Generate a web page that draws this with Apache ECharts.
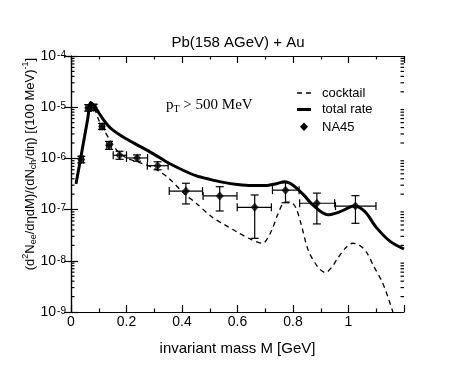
<!DOCTYPE html>
<html><head><meta charset="utf-8">
<script src="https://cdn.jsdelivr.net/npm/echarts@6/dist/echarts.min.js"></script>
<style>html,body{margin:0;padding:0;background:#fff}#c{width:476px;height:368px}</style>
</head><body><div id="c"></div>
<script>
// ---- data ----
const totalMass = [0.018,0.03,0.04,0.05,0.06,0.071,0.08,0.09,0.10,0.116,0.135,0.15,0.175,0.2,0.25,0.3,0.35,0.4,0.45,0.5,0.55,0.6,0.65,0.7,0.74,0.77,0.8,0.84,0.87,0.925,0.97,1.02,1.06,1.1,1.15,1.2];
const totalRate = [3.2e-7,7.2e-7,1.45e-6,2.9e-6,5.8e-6,1.24e-5,1.12e-5,9.5e-6,7.8e-6,5.8e-6,4.3e-6,3.6e-6,2.9e-6,2.4e-6,1.7e-6,1.2e-6,8.2e-7,6.0e-7,4.6e-7,3.9e-7,3.4e-7,3.1e-7,2.95e-7,2.95e-7,3.2e-7,3.5e-7,3.0e-7,1.9e-7,1.25e-7,7.9e-8,9.1e-8,1.17e-7,9.0e-8,4.5e-8,2.4e-8,1.7e-8];
const cocktailMass = [0.018,0.03,0.04,0.05,0.06,0.071,0.08,0.09,0.10,0.12,0.14,0.17,0.2,0.25,0.3,0.35,0.41,0.45,0.51,0.55,0.6,0.65,0.69,0.72,0.745,0.77,0.79,0.81,0.83,0.855,0.89,0.917,0.94,0.96,0.99,1.015,1.04,1.064,1.09,1.124,1.16];
const cocktailRate = [3.2e-7,7.2e-7,1.45e-6,2.9e-6,5.8e-6,1.24e-5,1.08e-5,8.0e-6,5.6e-6,3.5e-6,2.3e-6,1.35e-6,1.02e-6,8.2e-7,6.4e-7,4.2e-7,2.0e-7,1.35e-7,7.0e-8,5.2e-8,3.6e-8,2.6e-8,2.2e-8,3.6e-8,8.0e-8,1.4e-7,1.4e-7,1.1e-7,5.0e-8,1.6e-8,7.5e-9,5.9e-9,7.5e-9,1.1e-8,1.8e-8,2.2e-8,2.0e-8,1.5e-8,8.0e-9,3.6e-9,1.0e-9];
const na45Mass  = [0.037,0.062,0.082,0.112,0.137,0.175,0.238,0.312,0.414,0.536,0.662,0.773,0.886,1.025];
const na45Rate  = [9.5e-7,9.7e-6,9.9e-6,4.2e-6,1.8e-6,1.15e-6,1.02e-6,7.2e-7,2.3e-7,1.85e-7,1.11e-7,2.4e-7,1.33e-7,1.17e-7];
const na45MassLo = [0.029,0.054,0.074,0.104,0.129,0.152,0.200,0.275,0.354,0.476,0.599,0.726,0.824,0.953];
const na45MassHi = [0.045,0.070,0.090,0.120,0.145,0.200,0.276,0.350,0.474,0.598,0.722,0.822,0.950,1.099];
const na45RateLo = [8.2e-7,8.4e-6,8.6e-6,3.7e-6,1.5e-6,9.6e-7,8.8e-7,6.0e-7,1.29e-7,9.4e-8,2.75e-8,1.36e-7,5.25e-8,5.4e-8];
const na45RateHi = [1.1e-6,1.12e-5,1.14e-5,4.8e-6,2.15e-6,1.38e-6,1.17e-6,8.6e-7,3.27e-7,2.8e-7,1.93e-7,3.35e-7,2.1e-7,1.87e-7];
const xTickLabels = ['0','0.2','0.4','0.6','0.8','1'];
const yDecades = [-9,-8,-7,-6,-5];
const yMinorFactors = [2,3,4,5,6,7,8,9];
const legendNames = ['cocktail','total rate','NA45'];

// ---- build ----
const FONT = '"Liberation Sans", Arial, Helvetica, sans-serif';
const SERIF = '"Liberation Serif", "Times New Roman", serif';
const totalData = totalMass.map((m,i)=>[m,totalRate[i]]);
const cocktailData = cocktailMass.map((m,i)=>[m,cocktailRate[i]]);
const na45Data = na45Mass.map((m,i)=>[m,na45Rate[i]]);
const errData = na45Mass.map((m,i)=>[m,na45Rate[i],na45MassLo[i],na45MassHi[i],na45RateLo[i],na45RateHi[i]]);
const minorData = [];
yDecades.forEach(e=>yMinorFactors.forEach(k=>minorData.push([0, k*Math.pow(10,e)])));

const chart = echarts.init(document.getElementById('c'), null, {renderer:'canvas'});
const axisLineStyle = {color:'#000', width:1.2};
const cap = 4;
function ln(x1,y1,x2,y2){return {type:'line',shape:{x1,y1,x2,y2},style:{stroke:'#000',lineWidth:1.2}};}

chart.setOption({
  animation:false,
  backgroundColor:'#fff',
  title:{text:'Pb(158 AGeV) + Au', left:'center', top:30,
    textStyle:{fontFamily:FONT,fontSize:15,fontWeight:'normal',color:'#000'}},
  grid:{left:71,right:72,top:56,bottom:56},
  xAxis:[{
    type:'value',min:0,max:1.2,interval:0.2,position:'bottom',
    name:'invariant mass M [GeV]',nameLocation:'middle',nameGap:29,
    nameTextStyle:{fontFamily:FONT,fontSize:15,color:'#000'},
    axisLine:{show:true,lineStyle:axisLineStyle},
    axisTick:{show:true,inside:true,length:7,lineStyle:{color:'#000',width:1.2}},
    minorTick:{show:true,splitNumber:2,length:3.5,lineStyle:{color:'#000',width:1.2}},
    splitLine:{show:false},
    axisLabel:{fontFamily:FONT,fontSize:14,color:'#000',margin:3,showMaxLabel:false,
      formatter:v=>{const i=Math.round(v/0.2);return (i<xTickLabels.length && Math.abs(v-i*0.2)<1e-6)?xTickLabels[i]:'';}}
  },{
    type:'value',min:0,max:1.2,interval:0.2,position:'top',
    axisLine:{show:true,lineStyle:axisLineStyle},
    axisTick:{show:true,inside:true,length:7,lineStyle:{color:'#000',width:1.2}},
    minorTick:{show:true,splitNumber:2,length:3.5,lineStyle:{color:'#000',width:1.2}},
    splitLine:{show:false},axisLabel:{show:false}
  }],
  yAxis:[{
    type:'log',logBase:10,min:1e-9,max:1e-4,position:'left',
    axisLine:{show:true,lineStyle:axisLineStyle},
    axisTick:{show:true,inside:true,length:7,lineStyle:{color:'#000',width:1.2}},
    splitLine:{show:false},
    axisLabel:{margin:5,color:'#000',
      formatter:v=>'{b|10}{s|'+Math.round(Math.log10(v))+'}',
      rich:{
        b:{fontFamily:FONT,fontSize:14,color:'#000',lineHeight:14,verticalAlign:'bottom',padding:[6,0,0,0]},
        s:{fontFamily:FONT,fontSize:10,color:'#000',lineHeight:10,verticalAlign:'top',padding:[1,0,0,1]}
      }}
  },{
    type:'log',logBase:10,min:1e-9,max:1e-4,position:'right',
    axisLine:{show:true,lineStyle:axisLineStyle},
    axisTick:{show:true,inside:true,length:7,lineStyle:{color:'#000',width:1.2}},
    splitLine:{show:false},axisLabel:{show:false}
  }],
  series:[
    {name:'minor ticks',type:'custom',xAxisIndex:0,yAxisIndex:0,silent:true,clip:false,
      data:minorData,encode:{x:0,y:1},
      renderItem:(params,api)=>{
        const y=api.coord([0,api.value(1)])[1];
        const cs=params.coordSys;
        return {type:'group',children:[ln(cs.x,y,cs.x+3.5,y),ln(cs.x+cs.width-3.5,y,cs.x+cs.width,y)]};
      }},
    {name:'cocktail',type:'line',data:cocktailData,showSymbol:false,symbol:'none',smooth:0.3,clip:true,
      lineStyle:{color:'#000',width:1.3,type:[5,4]},z:3},
    {name:'total rate',type:'line',data:totalData,showSymbol:false,symbol:'none',smooth:0.3,clip:true,
      lineStyle:{color:'#000',width:3},z:4},
    {name:'NA45 errors',type:'custom',data:errData,encode:{x:[0,2,3],y:[1,4,5]},z:5,
      renderItem:(params,api)=>{
        const c=api.coord([api.value(0),api.value(1)]);
        const xl=api.coord([api.value(2),api.value(1)])[0];
        const xh=api.coord([api.value(3),api.value(1)])[0];
        const yl=api.coord([api.value(0),api.value(4)])[1];
        const yh=api.coord([api.value(0),api.value(5)])[1];
        return {type:'group',children:[
          ln(xl,c[1],xh,c[1]), ln(xl,c[1]-cap,xl,c[1]+cap), ln(xh,c[1]-cap,xh,c[1]+cap),
          ln(c[0],yl,c[0],yh), ln(c[0]-cap,yl,c[0]+cap,yl), ln(c[0]-cap,yh,c[0]+cap,yh)
        ]};
      }},
    {name:'NA45',type:'scatter',data:na45Data,symbol:'diamond',symbolSize:[8,9],
      itemStyle:{color:'#000'},z:6}
  ],
  graphic:[
    {type:'text',x:30,y:164,rotation:Math.PI/2,
      style:{text:'(d{sup|2}N{sub|ee}/dηdM)/(dN{sub|ch}/dη) [(100 MeV){sup|-1}]',
        fontFamily:FONT,fontSize:13,fill:'#000',align:'center',verticalAlign:'middle',lineHeight:17,
        rich:{
          sup:{fontFamily:FONT,fontSize:9,fill:'#000',verticalAlign:'top',lineHeight:9},
          sub:{fontFamily:FONT,fontSize:9,fill:'#000',verticalAlign:'bottom',lineHeight:9}
        }}},
    {type:'text',x:166,y:105,
      style:{text:'p{t|T} > 500 MeV',fontFamily:SERIF,fontSize:15,fill:'#000',lineHeight:19,
        align:'left',verticalAlign:'middle',
        rich:{t:{fontFamily:SERIF,fontSize:10,fill:'#000',verticalAlign:'bottom',lineHeight:10}}}},
    {type:'line',shape:{x1:297,y1:93,x2:311,y2:93},style:{stroke:'#000',lineWidth:1.3,lineDash:[5,4]}},
    {type:'line',shape:{x1:297,y1:109.5,x2:311,y2:109.5},style:{stroke:'#000',lineWidth:3}},
    {type:'polygon',shape:{points:[[304,122.5],[308,126.8],[304,131],[300,126.8]]},style:{fill:'#000'}},
    {type:'text',x:322,y:93,style:{text:legendNames[0],fontFamily:FONT,fontSize:13,fill:'#000',verticalAlign:'middle'}},
    {type:'text',x:322,y:109.5,style:{text:legendNames[1],fontFamily:FONT,fontSize:13,fill:'#000',verticalAlign:'middle'}},
    {type:'text',x:322,y:127,style:{text:legendNames[2],fontFamily:FONT,fontSize:13,fill:'#000',verticalAlign:'middle'}}
  ]
});
</script></body></html>
